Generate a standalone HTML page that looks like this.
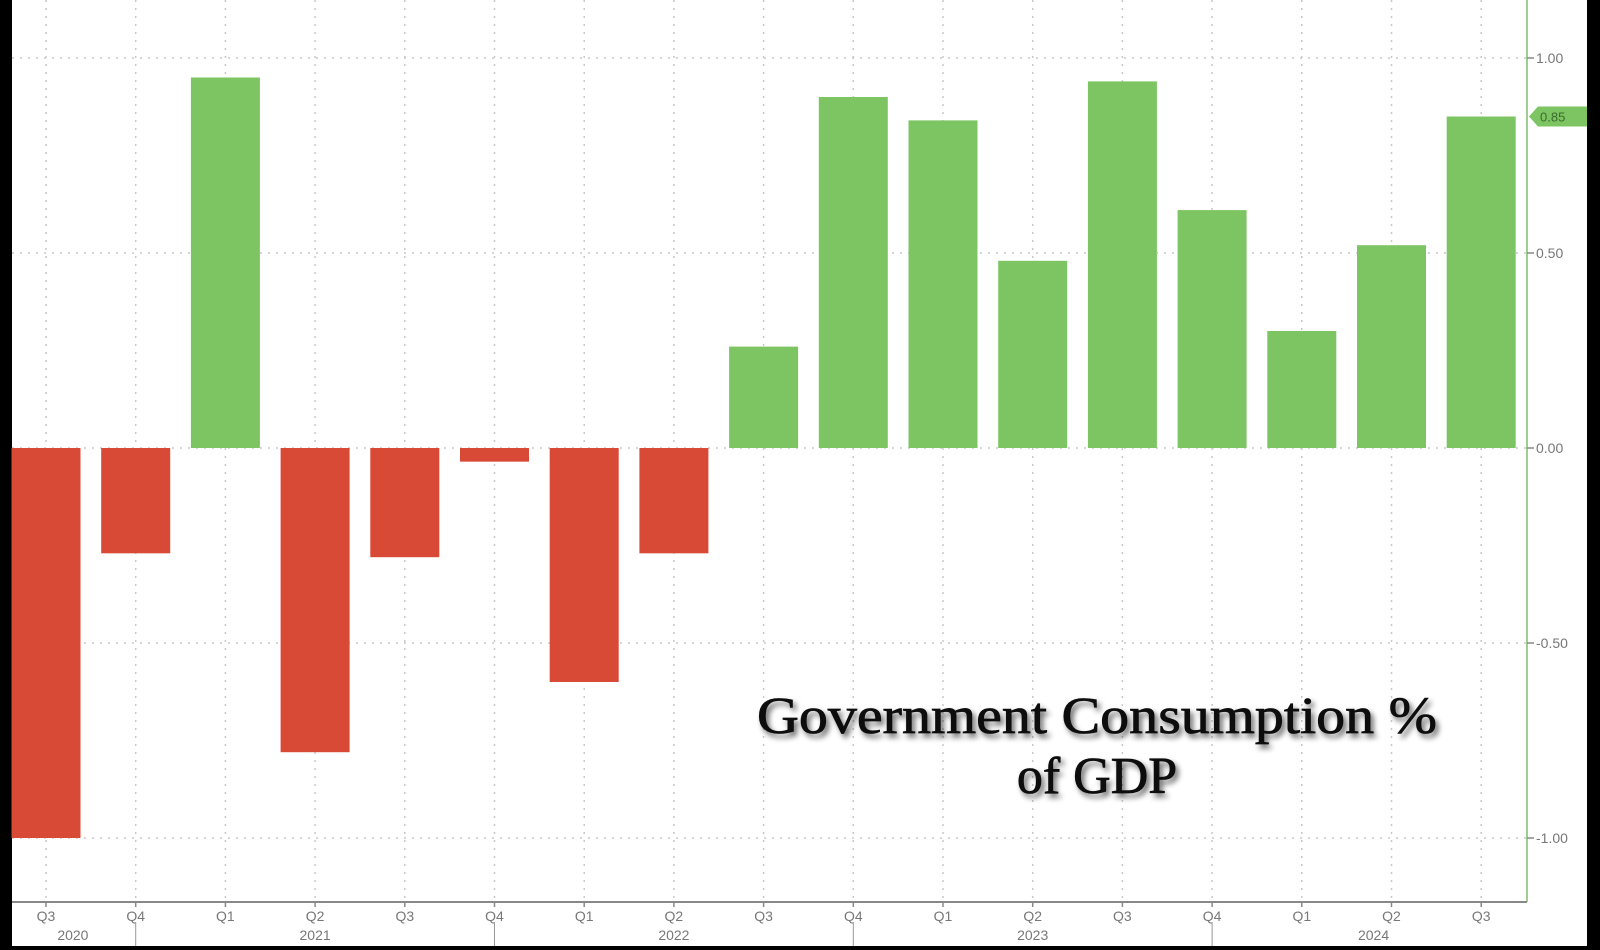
<!DOCTYPE html>
<html><head><meta charset="utf-8"><style>
html,body{margin:0;padding:0;background:#000;}
svg{display:block;}
</style></head><body>
<svg id="chart" width="1600" height="950" xmlns="http://www.w3.org/2000/svg">
<defs><filter id="sh" x="-10%" y="-30%" width="120%" height="160%"><feGaussianBlur in="SourceAlpha" stdDeviation="3"/><feOffset dx="3" dy="4"/><feComponentTransfer><feFuncA type="linear" slope="0.6"/></feComponentTransfer><feMerge><feMergeNode/><feMergeNode in="SourceGraphic"/></feMerge></filter></defs>
<rect x="12" y="0" width="1575" height="946" fill="#ffffff"/>
<g id="grid"></g>
<g id="bars"></g>
<g id="axes"></g>
<g filter="url(#sh)" font-family="'Liberation Serif', serif" font-size="52" fill="#111" stroke="#111" stroke-width="0.8" text-anchor="middle">
<text x="1097" y="733" textLength="680" lengthAdjust="spacingAndGlyphs">Government Consumption %</text>
<text x="1097" y="793">of GDP</text>
</g>
</svg>
<script>
const quarters=["Q3","Q4","Q1","Q2","Q3","Q4","Q1","Q2","Q3","Q4","Q1","Q2","Q3","Q4","Q1","Q2","Q3"];
const values=[-1.00,-0.27,0.95,-0.78,-0.28,-0.035,-0.60,-0.27,0.26,0.90,0.84,0.48,0.94,0.61,0.30,0.52,0.85];
const years=["2020","2021","2022","2023","2024"];
const yearCenterIdx=[0.3,3,7,11,14.8];
const yTicks=[1.00,0.50,0.00,-0.50,-1.00];
const lastValue=0.85;
const NS="http://www.w3.org/2000/svg";
const xS=i=>46+i*89.7;
const yS=v=>448-v*390;
function mk(tag,attrs,parent,text){const e=document.createElementNS(NS,tag);for(const k in attrs)e.setAttribute(k,attrs[k]);if(text!==undefined)e.textContent=text;parent.appendChild(e);return e;}
const grid=document.getElementById('grid'),bars=document.getElementById('bars'),axes=document.getElementById('axes');
quarters.forEach((q,i)=>{
  const l=mk('line',{x1:xS(i),x2:xS(i),y1:0,y2:902,stroke:'#c8c8c8','stroke-width':1.5,'stroke-dasharray':'2,6'},grid);
  
  
});
yTicks.forEach(v=>{
  const l=mk('line',{x1:12,x2:1527,y1:yS(v),y2:yS(v),stroke:'#c8c8c8','stroke-width':1.5,'stroke-dasharray':'2,6'},grid);
  
  
});
values.forEach((v,i)=>{
  const y0=yS(0),y1=yS(v);
  const r=mk('rect',{x:xS(i)-34.5,y:Math.min(y0,y1),width:69,height:Math.abs(y1-y0),fill:v>=0?'#7dc462':'#d84a35'},bars);
  
  
});
let a=mk('line',{x1:1527,x2:1527,y1:0,y2:902,stroke:'#9fcf90','stroke-width':2},axes);


a=mk('line',{x1:12,x2:1527,y1:902,y2:902,stroke:'#888','stroke-width':2},axes);


yTicks.forEach(v=>{
  mk('line',{x1:1527,x2:1534,y1:yS(v),y2:yS(v),stroke:'#888','stroke-width':1.5},axes);
  const t=mk('text',{x:1536,y:yS(v)+5,'font-family':'Liberation Sans, sans-serif','font-size':14,fill:'#777'},axes,v.toFixed(2));
  
  
});
const ly=yS(lastValue);
const tag=mk('path',{d:`M1529 ${ly} L1538 ${ly-10} L1587 ${ly-10} L1587 ${ly+10} L1538 ${ly+10} Z`,fill:'#7dc462'},axes);


const tt=mk('text',{x:1540,y:ly+5,'font-family':'Liberation Sans, sans-serif','font-size':13,fill:'#3b6b2c'},axes,lastValue.toFixed(2));


quarters.forEach((q,i)=>{
  mk('line',{x1:xS(i),x2:xS(i),y1:902,y2:907,stroke:'#888','stroke-width':1.5},axes);
  const t=mk('text',{x:xS(i),y:921,'text-anchor':'middle','font-family':'Liberation Sans, sans-serif','font-size':14,fill:'#777'},axes,q);
  
  
  if(q==="Q4"){mk('line',{x1:xS(i),x2:xS(i),y1:922,y2:946,stroke:'#999','stroke-width':1},axes);}
});
years.forEach((y,k)=>{
  const t=mk('text',{x:xS(yearCenterIdx[k]),y:940,'text-anchor':'middle','font-family':'Liberation Sans, sans-serif','font-size':14,fill:'#777'},axes,y);
  
  
});
</script>
</body></html>
